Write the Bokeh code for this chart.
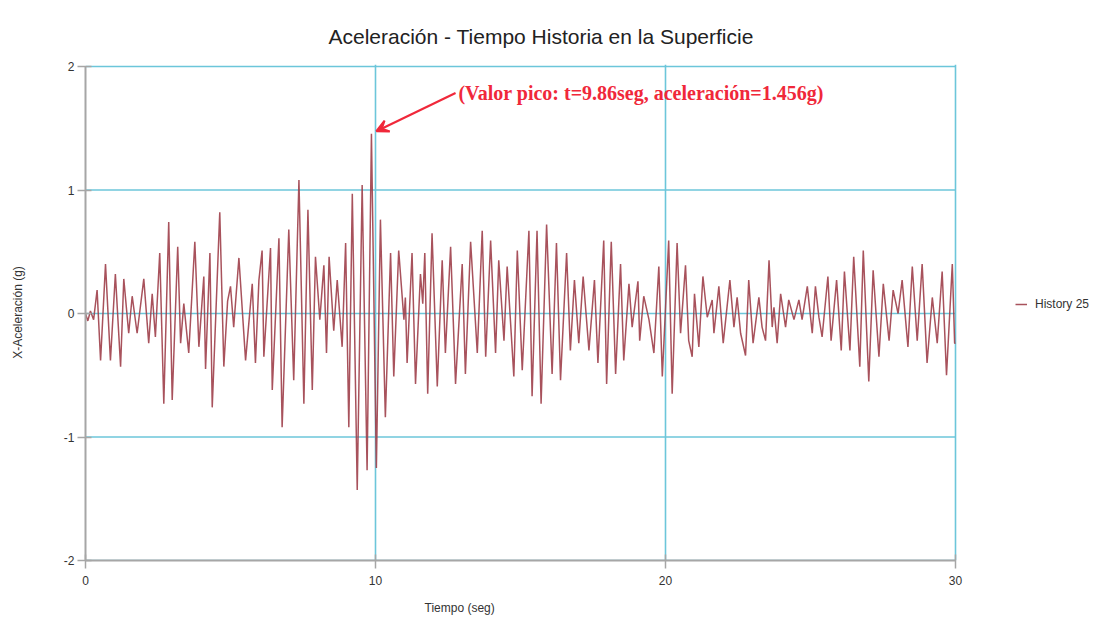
from bokeh.plotting import figure
from bokeh.models import (Range1d, FixedTicker, Legend, LegendItem, Label, Arrow,
                          VeeHead, ColumnDataSource, Title, PrintfTickFormatter)
from bokeh.embed import file_html
from bokeh.resources import INLINE

# ---------------- data ----------------
TITLE = "Aceleración - Tiempo Historia en la Superficie"
X_LABEL = "Tiempo (seg)"
Y_LABEL = "X-Aceleración (g)"
SERIES_NAME = "History 25"
X_TICKS = [0, 10, 20, 30]
Y_TICKS = [-2, -1, 0, 1, 2]
PEAK_T = 9.86
PEAK_A = 1.456
PEAK_TEXT = "(Valor pico: t=9.86seg, aceleración=1.456g)"

TIME = [
    0.00, 0.08, 0.17, 0.28, 0.40, 0.52, 0.69, 0.86, 1.03, 1.21, 1.32, 1.49, 1.61, 1.78,
    2.01, 2.18, 2.30, 2.41, 2.56, 2.70, 2.87, 2.99, 3.18, 3.28, 3.39, 3.56, 3.77, 3.91,
    4.08, 4.14, 4.29, 4.37, 4.63, 4.77, 4.90, 5.00, 5.11, 5.29, 5.52, 5.75, 5.86, 5.98,
    6.09, 6.15, 6.38, 6.44, 6.67, 6.78, 7.01, 7.18, 7.36, 7.53, 7.67, 7.82, 7.93, 8.08,
    8.22, 8.31, 8.40, 8.56, 8.68, 8.85, 8.97, 9.08, 9.20, 9.37, 9.54, 9.71, 9.86, 10.03,
    10.17, 10.34, 10.52, 10.63, 10.80, 10.98, 11.03, 11.09, 11.26, 11.38, 11.55, 11.63,
    11.70, 11.80, 11.95, 12.13, 12.30, 12.41, 12.59, 12.76, 12.99, 13.10, 13.28, 13.51,
    13.68, 13.80, 13.97, 14.14, 14.25, 14.43, 14.54, 14.77, 14.89, 15.06, 15.29, 15.40,
    15.57, 15.71, 15.90, 16.09, 16.24, 16.38, 16.59, 16.72, 16.86, 17.01, 17.16, 17.36,
    17.55, 17.67, 17.87, 17.97, 18.13, 18.28, 18.45, 18.56, 18.74, 18.85, 19.05, 19.11,
    19.25, 19.43, 19.60, 19.77, 19.89, 20.11, 20.23, 20.40, 20.52, 20.69, 20.80, 20.92,
    21.00, 21.15, 21.29, 21.44, 21.61, 21.67, 21.84, 21.99, 22.22, 22.36, 22.47, 22.59,
    22.76, 22.87, 23.02, 23.22, 23.33, 23.45, 23.57, 23.68, 23.74, 23.85, 23.97, 24.14,
    24.25, 24.43, 24.60, 24.71, 24.89, 25.06, 25.17, 25.29, 25.40, 25.60, 25.71, 25.90,
    26.06, 26.17, 26.36, 26.49, 26.70, 26.82, 27.01, 27.16, 27.36, 27.51, 27.71, 27.85,
    28.02, 28.16, 28.36, 28.51, 28.68, 28.85, 29.02, 29.20, 29.37, 29.54, 29.69, 29.89,
    29.97, 30.00,
]
ACCEL = [
    0.00, -0.06, 0.02, -0.05, 0.19, -0.38, 0.40, -0.38, 0.32, -0.43, 0.28, -0.16, 0.14, -0.16,
    0.28, -0.24, 0.16, -0.19, 0.49, -0.73, 0.74, -0.70, 0.54, -0.24, 0.08, -0.32, 0.58, -0.27,
    0.30, -0.45, 0.49, -0.76, 0.82, -0.43, 0.10, 0.22, -0.11, 0.45, -0.38, 0.24, -0.40, 0.27,
    0.51, -0.35, 0.53, -0.62, 0.61, -0.92, 0.68, -0.54, 1.08, -0.73, 0.84, -0.62, 0.46, -0.05,
    0.39, -0.32, 0.46, -0.14, 0.27, -0.27, 0.57, -0.92, 0.97, -1.43, 1.04, -1.27, 1.456, -1.25,
    0.76, -0.84, 0.49, -0.51, 0.51, -0.05, 0.13, -0.40, 0.49, -0.57, 0.32, 0.08,
    0.49, -0.65, 0.65, -0.59, 0.43, -0.32, 0.54, -0.57, 0.40, -0.49, 0.58, -0.32,
    0.67, -0.35, 0.59, -0.32, 0.43, -0.22, 0.38, -0.51, 0.51, -0.46, 0.67, -0.67,
    0.67, -0.73, 0.72, -0.49, 0.57, -0.54, 0.49, -0.30, 0.27, -0.24, 0.30, -0.30,
    0.27, -0.40, 0.59, -0.57, 0.58, -0.49, 0.40, -0.38, 0.24, -0.11, 0.26, -0.22,
    0.14, -0.05, -0.32, 0.38, -0.51, 0.59, -0.65, 0.57, -0.16, 0.39, -0.22, -0.35,
    0.16, -0.27, 0.30, -0.03, 0.11, -0.16, 0.22, -0.24, 0.27, -0.11, 0.13, -0.16,
    -0.34, 0.27, -0.24, 0.13, -0.11, -0.22, 0.43, -0.11, 0.05, -0.24, 0.16, -0.11,
    0.11, -0.05, 0.11, -0.05, 0.22, -0.16, 0.22, -0.03, -0.19, 0.30, -0.22, 0.27,
    -0.30, 0.34, -0.30, 0.46, -0.43, 0.51, -0.55, 0.35, -0.35, 0.24, -0.22, 0.19,
    0.00, 0.27, -0.27, 0.38, -0.22, 0.40, -0.40, 0.13, -0.24, 0.34, -0.50, 0.40,
    -0.24, -0.24,
]

# ---------------- layout / style ----------------
FONT = "Liberation Sans"
GRID = "#6cc6da"
AXIS = "#a6a6a6"
TXT = "#333333"
RED = "#f0283a"

PX_PER_S = 29.0        # horizontal scale of the reference
PX_PER_G = 123.5       # vertical scale of the reference
FRAME_W = 1020         # frame runs on past t=30 so the legend can live inside it
FRAME_H = 496
X_MIN, X_MAX = X_TICKS[0], X_TICKS[-1]
Y_MIN, Y_MAX = Y_TICKS[0], Y_TICKS[-1]

p = figure(frame_width=FRAME_W, frame_height=FRAME_H, output_backend="svg",
           toolbar_location=None,
           x_range=Range1d(X_MIN, X_MIN + FRAME_W / PX_PER_S),
           y_range=Range1d(Y_MIN, Y_MIN + FRAME_H / PX_PER_G),
           min_border_left=85, min_border_right=0, min_border_top=64,
           min_border_bottom=62)
p.outline_line_color = None
p.background_fill_color = "white"
p.border_fill_color = "white"

p.title.text = TITLE
p.title.text_font = FONT
p.title.text_font_size = "21px"
p.title.text_font_style = "normal"
p.title.text_color = "#222222"
p.title.align = "left"
p.title.offset = 243
p.title.standoff = 34

for ax in (p.xaxis[0], p.yaxis[0]):
    ax.axis_line_color = AXIS
    ax.axis_line_width = 2
    ax.major_tick_line_color = AXIS
    ax.major_tick_line_width = 1.5
    ax.major_tick_in = 6
    ax.major_tick_out = 8
    ax.minor_tick_line_color = None
    ax.major_label_text_font = FONT
    ax.major_label_text_font_size = "12px"
    ax.major_label_text_color = TXT
    ax.axis_label_text_font = FONT
    ax.axis_label_text_font_size = "12px"
    ax.axis_label_text_font_style = "normal"
    ax.axis_label_text_color = TXT
    ax.formatter = PrintfTickFormatter(format="%d")

p.xaxis.bounds = (X_MIN, X_MAX)
p.yaxis.bounds = (Y_MIN, Y_MAX)
p.xaxis.ticker = FixedTicker(ticks=X_TICKS)
p.yaxis.ticker = FixedTicker(ticks=Y_TICKS)
p.xaxis.major_label_standoff = 7
p.yaxis.major_label_standoff = 3
p.yaxis.axis_label = Y_LABEL
p.yaxis.axis_label_standoff = 36

xlab = Title(text=X_LABEL, align="left", offset=339, standoff=22,
             text_font=FONT, text_font_size="12px", text_font_style="normal",
             text_color=TXT)
p.add_layout(xlab, "below")

# grid: vertical lines from the x grid, horizontal lines limited to 0..30 s
p.xgrid.ticker = FixedTicker(ticks=X_TICKS)
p.xgrid.grid_line_color = GRID
p.xgrid.grid_line_width = 1.6
p.ygrid.grid_line_color = None
hgrid = p.segment(x0=[X_MIN] * len(Y_TICKS), x1=[X_MAX] * len(Y_TICKS),
                  y0=Y_TICKS, y1=Y_TICKS, line_color=GRID, line_width=1.6,
                  level="underlay")

src = ColumnDataSource(dict(t=TIME, a=ACCEL))
r = p.line("t", "a", source=src, line_color="#9e3f4a", line_width=1.5, line_alpha=0.9)

# peak annotation
p.add_layout(Arrow(end=VeeHead(size=12, line_color=RED, fill_color=RED, line_width=2),
                   x_start=PEAK_T + 2.9, y_start=PEAK_A + 0.33,
                   x_end=PEAK_T + 0.17, y_end=PEAK_A + 0.02,
                   line_color=RED, line_width=2.2))
p.add_layout(Label(x=PEAK_T + 3.0, y=PEAK_A + 0.33, text=PEAK_TEXT,
                   text_font="Liberation Serif", text_font_style="bold",
                   text_font_size="20px", text_color=RED,
                   text_baseline="middle", text_align="left"))

legend = Legend(items=[LegendItem(label=SERIES_NAME, renderers=[r])],
                location=(930, 246), glyph_width=12, label_standoff=8,
                label_text_font=FONT, label_text_font_size="12px",
                label_text_color=TXT, border_line_color=None,
                background_fill_alpha=0)
p.add_layout(legend)

open("out.html", "w").write(file_html(p, INLINE))
